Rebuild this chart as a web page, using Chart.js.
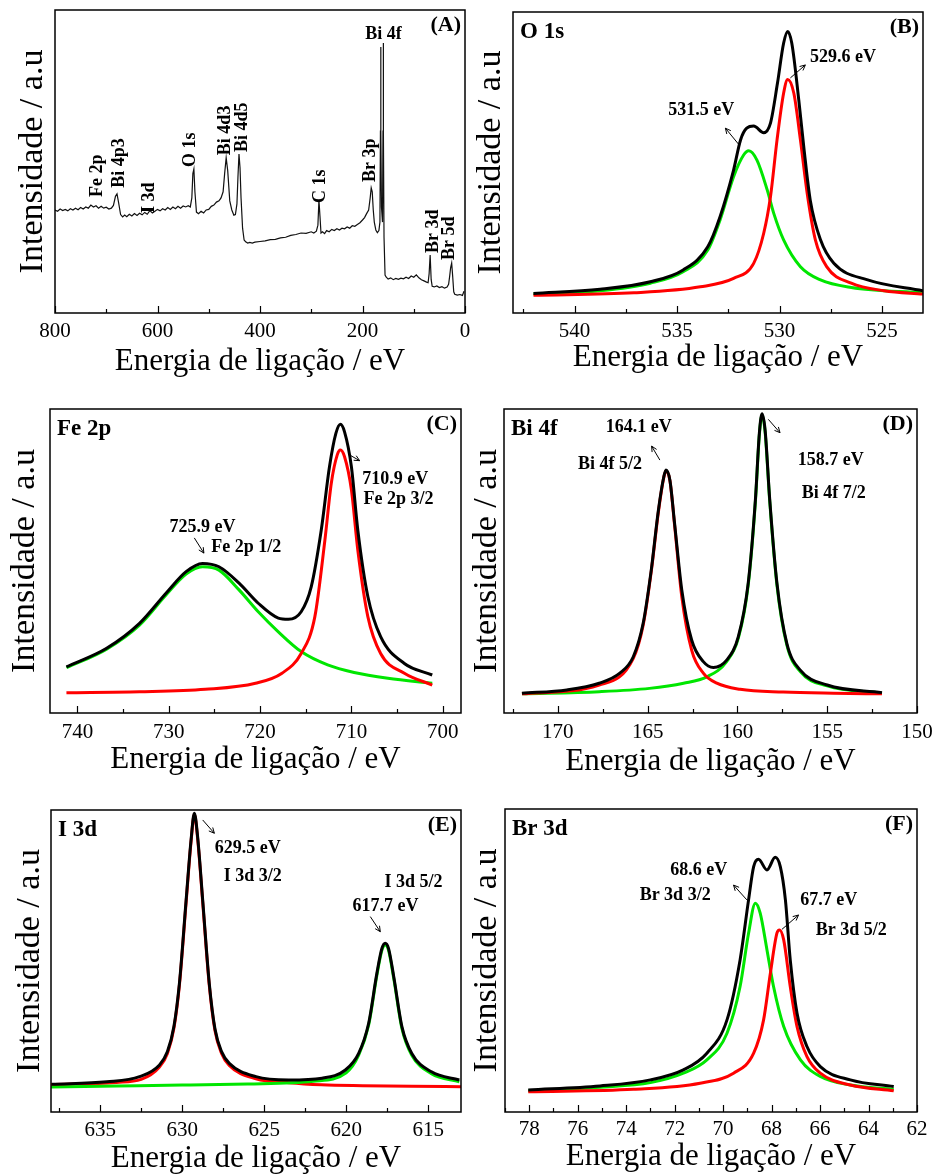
<!DOCTYPE html>
<html><head><meta charset="utf-8">
<script src="https://cdn.jsdelivr.net/npm/chart.js@4.4.1/dist/chart.umd.min.js"></script>
<style>
html,body{margin:0;padding:0;background:#fff;}
body{width:938px;height:1176px;position:relative;overflow:hidden;}
.p{position:absolute;}
</style></head><body>
<div class="p" style="left:0;top:0;width:470px;height:392px"><canvas id="cA"></canvas></div>
<div class="p" style="left:470px;top:0;width:468px;height:392px"><canvas id="cB"></canvas></div>
<div class="p" style="left:0;top:392px;width:470px;height:392px"><canvas id="cC"></canvas></div>
<div class="p" style="left:470px;top:392px;width:468px;height:392px"><canvas id="cD"></canvas></div>
<div class="p" style="left:0;top:784px;width:470px;height:392px"><canvas id="cE"></canvas></div>
<div class="p" style="left:470px;top:784px;width:468px;height:392px"><canvas id="cF"></canvas></div>
<script>
// ---------- (A) survey ----------
const surveyEnergy = [
 800,795,790,785,780,775,770,765,760,755,
 750,745,740,735,730,725,720,715,710,705,
 700,695,690,686,682,679,676,672,668,664,
 660,655,650,645,640,635,630,625,620,615,
 610,605,600,595,590,585,580,575,570,565,
 560,555,550,545,540,536,533,531,529,527,
 524,520,515,510,505,500,495,490,485,480,
 476,472,469,466,463,459,455,451,448,445,
 443,441,439,437,434,431,428,424,420,415,
 410,400,390,380,370,360,350,340,330,320,
 310,300,295,290,287,285,283,281,278,274,
 270,265,260,255,250,245,240,235,230,225,
 220,215,210,205,200,196,192,188,185,183,
 181,179,177,174,171,168,166,165,164.5,164,
 163,161,160,159.5,159,158,156,154,150,145,
 140,135,130,125,120,115,110,105,100,95,
 90,85,80,75,72,70,68,66,64,60,
 55,50,45,40,35,32,30,28,26,24,
 22,20,15,10,5,2];
const surveyIntensity = [
 34.0,33.6,34.3,33.8,34.2,33.7,34.4,34.0,34.6,34.1,
 34.8,34.3,35.0,34.6,35.6,35.0,35.4,34.6,35.2,34.6,
 34.9,34.3,34.6,35.5,38.5,39.3,36.5,32.5,31.7,32.3,
 31.8,32.6,32.0,32.8,32.2,32.9,32.4,33.2,32.6,33.8,
 33.0,33.6,34.2,33.7,34.4,34.0,34.8,34.2,35.0,34.4,
 35.2,34.6,35.3,35.0,35.4,35.0,38.0,46.0,47.5,40.0,
 33.3,32.8,33.6,33.0,34.0,34.2,35.2,35.6,36.6,37.0,
 38.0,40.0,46.0,51.2,47.0,37.0,34.0,32.3,32.5,36.0,
 45.0,52.5,48.0,38.0,28.0,24.1,23.5,23.1,23.3,23.1,
 23.4,23.6,23.8,24.2,24.3,24.8,25.0,25.6,25.9,26.4,
 26.3,26.8,26.4,27.0,29.0,37.3,32.0,26.4,26.8,26.2,
 27.2,26.8,27.6,27.2,27.8,27.4,28.0,27.8,28.4,28.0,
 28.8,28.6,29.2,29.8,30.7,31.5,32.8,34.0,38.0,41.3,
 40.0,34.0,30.0,27.4,26.5,27.2,30.0,60.0,87.8,60.0,
 35.0,30.0,60.0,89.1,60.0,25.0,12.5,11.9,11.2,11.6,
 11.0,11.4,11.1,11.5,11.3,11.8,11.4,12.2,11.8,12.6,
 11.6,11.0,10.6,10.2,10.0,13.0,19.1,11.0,8.8,8.6,
 8.9,8.4,8.7,8.2,8.6,9.5,12.0,15.0,16.5,12.0,
 7.0,6.2,5.9,6.1,5.8,7.2];
const ticksA = [800,600,400,200,0];

// ---------- (B) O 1s ----------
const o1sTotalE = [542.0,538.75,536.3,534.7,533.5,532.9,532.24,531.9,531.6,531.26,530.77,530.44,530.1,529.8,529.6,529.4,529.06,528.8,528.5,528.0,527.35,525.7,523.0];
const o1sTotal  = [6.5,7.9,10.4,14.3,22.0,32.0,47.5,57.5,61.4,62.1,59.9,63.1,76.3,89.6,93.5,89.6,70.8,54.2,37.5,24.3,16.5,11.0,7.4];
const o1sGreenE = [542.0,538.75,536.3,534.7,533.5,532.9,532.24,531.75,531.5,531.1,530.6,530.28,529.8,528.98,528.0,526.5,523.0];
const o1sGreen  = [6.3,7.4,9.9,13.7,20.9,30.9,45.3,52.5,53.9,50.8,40.9,33.1,24.3,15.4,11.0,8.5,6.7];
const o1sRedE   = [542.0,537.1,533.86,532.24,531.26,530.77,530.44,530.12,529.8,529.6,529.3,528.98,528.65,528.25,527.7,526.5,524.9,523.0];
const o1sRed    = [5.9,6.7,8.7,11.5,16.5,26.5,38.6,57.5,73.0,77.6,73.0,57.5,39.8,24.3,15.4,9.9,7.4,6.3];
const ticksB = [540,535,530,525];

// ---------- (C) Fe 2p ----------
const fe2pTotalE = [741.2,736.8,733.2,730.3,728.1,726.3,724.5,722.3,720.2,718.0,716.9,715.5,714.4,713.3,712.4,711.7,711.2,710.75,710.0,709.3,708.2,706.8,704.2,701.15];
const fe2pTotal  = [15.2,21.3,29.5,39.4,46.5,49.2,48.1,42.7,36.1,31.2,30.8,33.3,41.5,60.2,81.0,92.0,95.0,92.5,81.0,60.2,38.3,25.1,16.3,12.5];
const fe2pGreenE = [741.2,736.8,733.2,730.3,728.1,726.3,724.5,722.3,720.2,718.0,715.5,712.6,709.7,706.0,701.15];
const fe2pGreen  = [14.9,21.0,28.9,38.8,45.7,48.1,47.0,40.5,33.3,26.7,20.2,15.8,13.3,11.4,9.8];
const fe2pRedE   = [741.2,733.2,726.0,720.5,717.6,715.5,714.0,712.9,712.2,711.55,711.2,710.75,710.0,709.3,708.2,706.8,704.2,701.15];
const fe2pRed    = [6.7,7.0,7.8,9.8,13.1,19.6,31.7,56.9,75.6,84.9,86.5,84.3,73.4,53.6,31.7,19.6,13.1,9.2];
const ticksC = [740,730,720,710,700];

// ---------- (D) Bi 4f ----------
const bi4fTotalE = [172.0,169.5,167.7,166.55,165.8,165.25,164.8,164.4,164.1,163.98,163.76,163.5,163.1,162.55,161.9,161.34,160.6,159.95,159.4,159.0,158.78,158.63,158.46,158.2,157.8,157.25,156.5,155.0,151.95];
const bi4fTotal  = [6.5,7.6,9.8,13.1,18.5,29.5,47.0,66.8,77.7,79.9,76.6,62.4,40.5,24.0,16.9,15.0,17.4,25.1,42.7,70.1,92.0,98.4,93.1,70.1,42.7,22.9,14.1,9.2,6.7];
const bi4fRedE   = [172.0,167.7,165.8,165.25,164.8,164.4,164.1,163.98,163.76,163.5,163.1,162.55,161.9,161.15,159.85,157.45,154.65,151.95];
const bi4fRed    = [6.3,9.2,18.0,28.9,46.5,66.2,77.5,79.7,76.4,61.8,38.3,20.7,13.1,9.8,7.8,6.9,6.5,6.3];
const bi4fGreenE = [172.0,167.7,164.9,163.0,161.7,160.6,159.95,159.4,159.0,158.78,158.63,158.46,158.2,157.8,157.25,156.5,155.0,151.95];
const bi4fGreen  = [6.3,7.0,8.1,9.8,11.9,16.9,24.6,42.1,69.5,91.4,98.0,92.5,69.5,42.1,22.4,13.6,8.9,6.5];
const ticksD = [170,165,160,155,150];

// ---------- (E) I 3d ----------
const i3dTotalE = [637.96,634.6,632.6,631.4,630.9,630.5,630.17,629.76,629.46,629.26,629.06,628.75,628.35,628.0,627.6,627.13,625.5,623.5,621.47,620.05,619.24,618.63,618.13,617.82,617.62,617.42,617.1,616.6,616.0,614.8,613.1];
const i3dTotal  = [9.2,10.0,11.7,15.5,20.0,28.5,42.6,70.2,90.1,98.9,91.2,70.2,42.6,27.5,20.0,16.1,11.7,10.6,11.2,13.9,19.4,29.4,45.9,54.2,55.9,54.2,44.8,28.2,19.4,13.3,10.6];
const i3dRedE   = [638.0,634.0,632.5,631.4,630.9,630.5,630.17,629.76,629.46,629.26,629.06,628.75,628.35,628.0,627.6,627.13,625.5,623.5,621.5,619.0,616.0,613.0];
const i3dRed    = [9.1,9.8,10.8,14.8,19.4,27.9,42.0,69.5,89.5,98.5,90.6,69.5,42.0,26.9,19.4,15.4,11.0,9.7,9.0,8.7,8.5,8.4];
const i3dGreenE = [638.0,634.0,630.0,626.0,622.0,620.0,619.24,618.63,618.13,617.82,617.62,617.42,617.1,616.6,616.0,614.8,613.1];
const i3dGreen  = [8.3,8.6,8.9,9.3,10.2,13.0,18.8,28.8,45.3,53.6,55.3,53.6,44.2,27.6,18.8,12.7,10.0];
const ticksE = [635,630,625,620,615];

// ---------- (F) Br 3d ----------
const br3dTotalE = [78.04,75.08,73.0,71.64,70.67,69.84,69.3,68.95,68.74,68.54,68.19,67.85,67.64,67.43,67.23,66.95,66.54,65.99,64.75,62.96];
const br3dTotal  = [7.3,8.6,10.6,13.9,19.4,30.4,50.2,70.0,81.0,83.4,79.9,84.1,81.0,70.0,50.2,32.6,21.6,15.0,10.6,8.4];
const br3dGreenE = [78.04,75.08,73.0,71.64,70.67,69.84,69.3,68.95,68.67,68.47,68.19,67.92,67.5,66.81,65.99,64.75,62.96];
const br3dGreen  = [7.0,8.2,9.7,12.8,17.2,26.0,41.4,59.0,68.9,65.6,53.5,41.4,28.2,17.2,11.7,8.9,7.5];
const br3dRedE   = [78.04,73.7,70.95,69.57,68.74,68.33,68.05,67.78,67.67,67.5,67.23,66.95,66.54,65.99,64.75,62.96];
const br3dRed    = [6.7,7.5,9.5,12.8,19.4,30.4,45.8,59.0,60.1,56.8,41.4,28.2,18.3,12.8,8.9,7.0];
const ticksF = [78,76,74,72,70,68,66,64,62];

// ---------- rendering ----------
const SERIF = '"Liberation Serif", "Times New Roman", serif';
Chart.defaults.font.family = SERIF;
Chart.defaults.color = '#000';

const BLACK = '#000000', RED = '#ff0000', GREEN = '#00e600';
const pts = (xs, ys) => xs.map((x, i) => ({x: x, y: ys[i]}));
const line = (xs, ys, color, w, tension) => ({
  data: pts(xs, ys), borderColor: color, borderWidth: w, pointRadius: 0, fill: false,
  tension: tension === 0 ? 0 : 0.4, cubicInterpolationMode: tension === 0 ? 'default' : 'monotone'
});

const panels = {
  cA: { min: 0, max: 800, ticks: ticksA, minor: 100,
    pad: {left: 0, right: 5, top: 10, bottom: 0}, yW: 55, xH: 79, xtp: 14.5, ytp: 16, tickPad: 6,
    sets: [line(surveyEnergy, surveyIntensity, '#111111', 1.2, 0)],
    tl: null, tr: '(A)',
    texts: [
      {t: 'Fe 2p', e: 717.1, v: 38.3, rot: true}, {t: 'Bi 4p3', e: 674.1, v: 41.3, rot: true},
      {t: 'I 3d', e: 616.6, v: 33.0, rot: true}, {t: 'O 1s', e: 535.6, v: 48.2, rot: true},
      {t: 'Bi 4d3', e: 467.3, v: 52.1, rot: true}, {t: 'Bi 4d5', e: 435.1, v: 53.1, rot: true},
      {t: 'C 1s', e: 281.9, v: 36.3, rot: true}, {t: 'Br 3p', e: 185.4, v: 43.2, rot: true},
      {t: 'Br 3d', e: 61.5, v: 19.8, rot: true}, {t: 'Br 5d', e: 30.3, v: 17.5, rot: true},
      {t: 'Bi 4f', e: 159.0, v: 92.1}],
    arrows: [] },
  cB: { min: 523, max: 543, ticks: ticksB, minor: 2.5,
    pad: {left: 0, right: 15, top: 12, bottom: 0}, yW: 43, xH: 79, xtp: 19, ytp: 4, tickPad: 6,
    sets: [line(o1sTotalE, o1sTotal, BLACK, 3), line(o1sRedE, o1sRed, RED, 3), line(o1sGreenE, o1sGreen, GREEN, 3)],
    tl: 'O 1s', tr: '(B)',
    texts: [{t: '531.5 eV', e: 533.82, v: 67.4}, {t: '529.6 eV', e: 526.9, v: 85.0}],
    arrows: [[532.0, 56.1, 532.64, 61.4], [529.47, 78.1, 528.74, 82.4]] },
  cC: { min: 698, max: 743, ticks: ticksC, minor: 5,
    pad: {left: 0, right: 9, top: 17, bottom: 0}, yW: 50, xH: 71, xtp: 8.5, ytp: 8, tickPad: 7,
    sets: [line(fe2pTotalE, fe2pTotal, BLACK, 3), line(fe2pRedE, fe2pRed, RED, 3), line(fe2pGreenE, fe2pGreen, GREEN, 3)],
    tl: 'Fe 2p', tr: '(C)',
    texts: [{t: '725.9 eV', e: 726.3, v: 61.2}, {t: 'Fe 2p 1/2', e: 721.5, v: 54.6},
            {t: '710.9 eV', e: 705.2, v: 77.0}, {t: 'Fe 2p 3/2', e: 704.85, v: 70.4}],
    arrows: [[727.2, 57.6, 726.15, 52.6], [710.2, 84.9, 709.1, 83.0]] },
  cD: { min: 150, max: 173, ticks: ticksD, minor: 2.5,
    pad: {left: 0, right: 21, top: 17, bottom: 0}, yW: 34, xH: 71, xtp: 6.5, ytp: 0, tickPad: 7,
    sets: [line(bi4fTotalE, bi4fTotal, BLACK, 3), line(bi4fRedE, bi4fRed, RED, 3), line(bi4fGreenE, bi4fGreen, GREEN, 3)],
    tl: 'Bi 4f', tr: '(D)',
    texts: [{t: '164.1 eV', e: 165.49, v: 94.1}, {t: 'Bi 4f 5/2', e: 167.1, v: 81.7},
            {t: '158.7 eV', e: 154.8, v: 83.2}, {t: 'Bi 4f 7/2', e: 154.64, v: 72.2}],
    arrows: [[164.32, 83.2, 164.78, 87.8], [158.28, 96.6, 157.63, 92.2]] },
  cE: { min: 613, max: 638, ticks: ticksE, minor: 2.5,
    pad: {left: 0, right: 9, top: 26, bottom: 0}, yW: 51, xH: 64, xtp: 2, ytp: 13, tickPad: 6,
    sets: [line(i3dTotalE, i3dTotal, BLACK, 3), line(i3dGreenE, i3dGreen, GREEN, 3), line(i3dRedE, i3dRed, RED, 3)],
    tl: 'I 3d', tr: '(E)',
    texts: [{t: '629.5 eV', e: 626.0, v: 87.4}, {t: 'I 3d 3/2', e: 625.7, v: 78.1},
            {t: 'I 3d 5/2', e: 615.9, v: 76.0}, {t: '617.7 eV', e: 617.6, v: 68.2}],
    arrows: [[628.75, 96.7, 628.04, 92.3], [618.53, 64.7, 617.92, 59.7]] },
  cF: { min: 62, max: 79, ticks: ticksF, minor: 1,
    pad: {left: 0, right: 21, top: 25, bottom: 0}, yW: 35, xH: 64, xtp: 3.5, ytp: 0, tickPad: 5,
    sets: [line(br3dTotalE, br3dTotal, BLACK, 3), line(br3dRedE, br3dRed, RED, 3), line(br3dGreenE, br3dGreen, GREEN, 3)],
    tl: 'Br 3d', tr: '(F)',
    texts: [{t: '68.6 eV', e: 71.01, v: 79.9}, {t: 'Br 3d 3/2', e: 71.98, v: 71.6},
            {t: '67.7 eV', e: 65.64, v: 70.0}, {t: 'Br 3d 5/2', e: 64.71, v: 60.1}],
    arrows: [[69.02, 70.0, 69.57, 74.9], [67.57, 60.3, 66.89, 65.0]] }
};

const framePlugin = {
  id: 'frame',
  afterDatasetsDraw(chart) {
    const cfg = panels[chart.canvas.id];
    const {ctx, chartArea: a, scales: {x, y}} = chart;
    ctx.save();
    ctx.strokeStyle = '#000';
    ctx.lineWidth = 1.5;
    ctx.strokeRect(a.left, a.top, a.right - a.left, a.bottom - a.top);
    // inward ticks on the bottom axis
    ctx.lineWidth = 1.2;
    const majors = x.ticks.map(t => t.value);
    const start = Math.ceil(x.min / cfg.minor - 1e-9) * cfg.minor;
    for (let v = start; v <= x.max + 1e-9; v += cfg.minor) {
      const px = Math.round(x.getPixelForValue(v)) + 0.5;
      const isMajor = majors.some(m => Math.abs(m - v) < 1e-6);
      ctx.beginPath();
      ctx.moveTo(px, a.bottom);
      ctx.lineTo(px, a.bottom - (isMajor ? 7 : 4));
      ctx.stroke();
    }
    // annotations
    ctx.fillStyle = '#000';
    for (const t of cfg.texts) {
      const px = x.getPixelForValue(t.e), py = y.getPixelForValue(t.v);
      ctx.font = 'bold 18px ' + SERIF;
      if (t.rot) {
        ctx.save(); ctx.translate(px, py); ctx.rotate(-Math.PI / 2);
        ctx.textAlign = 'left'; ctx.textBaseline = 'middle';
        ctx.fillText(t.t, 0, 0); ctx.restore();
      } else {
        ctx.textAlign = 'center'; ctx.textBaseline = 'middle';
        ctx.fillText(t.t, px, py);
      }
    }
    ctx.lineWidth = 1;
    for (const ar of cfg.arrows) {
      const x1 = x.getPixelForValue(ar[0]), y1 = y.getPixelForValue(ar[1]);
      const x2 = x.getPixelForValue(ar[2]), y2 = y.getPixelForValue(ar[3]);
      const ang = Math.atan2(y2 - y1, x2 - x1), h = 6;
      ctx.beginPath();
      ctx.moveTo(x1, y1); ctx.lineTo(x2, y2);
      ctx.moveTo(x2, y2); ctx.lineTo(x2 - h * Math.cos(ang - 0.45), y2 - h * Math.sin(ang - 0.45));
      ctx.moveTo(x2, y2); ctx.lineTo(x2 - h * Math.cos(ang + 0.45), y2 - h * Math.sin(ang + 0.45));
      ctx.stroke();
    }
    ctx.textBaseline = 'alphabetic';
    if (cfg.tl) {
      ctx.font = 'bold 23px ' + SERIF; ctx.textAlign = 'left';
      ctx.fillText(cfg.tl, a.left + 7, a.top + 26);
    }
    if (cfg.tr) {
      ctx.font = 'bold 22px ' + SERIF; ctx.textAlign = 'right';
      ctx.fillText(cfg.tr, a.right - 4, a.top + 21);
    }
    ctx.restore();
  }
};

for (const id of Object.keys(panels)) {
  const cfg = panels[id];
  new Chart(document.getElementById(id), {
    type: 'line',
    data: {datasets: cfg.sets},
    options: {
      responsive: true, maintainAspectRatio: false, animation: false,
      layout: {padding: cfg.pad},
      plugins: {legend: {display: false}, tooltip: {enabled: false}},
      scales: {
        x: {
          type: 'linear', reverse: true, min: cfg.min, max: cfg.max,
          afterBuildTicks: s => { s.ticks = cfg.ticks.slice().sort((p, q) => p - q).map(v => ({value: v})); },
          afterFit: s => { s.height = cfg.xH; s.paddingLeft = 0; s.paddingRight = 0; },
          grid: {display: false, drawTicks: false}, border: {display: false},
          ticks: {autoSkip: false, maxRotation: 0, minRotation: 0, padding: cfg.tickPad, color: '#000', font: {size: 21}},
          title: {display: true, text: 'Energia de ligação / eV', color: '#000',
                  font: {size: 31, lineHeight: 1}, padding: {top: 0, bottom: cfg.xtp}}
        },
        y: {
          type: 'linear', min: 0, max: 100,
          afterFit: s => { s.width = cfg.yW; s.paddingTop = 0; s.paddingBottom = 0; },
          grid: {display: false, drawTicks: false}, border: {display: false},
          ticks: {display: false},
          title: {display: true, text: 'Intensidade / a.u', color: '#000',
                  font: {size: 34, lineHeight: 1}, padding: {top: cfg.ytp, bottom: 0}}
        }
      }
    },
    plugins: [framePlugin]
  });
}
</script>
</body></html>
